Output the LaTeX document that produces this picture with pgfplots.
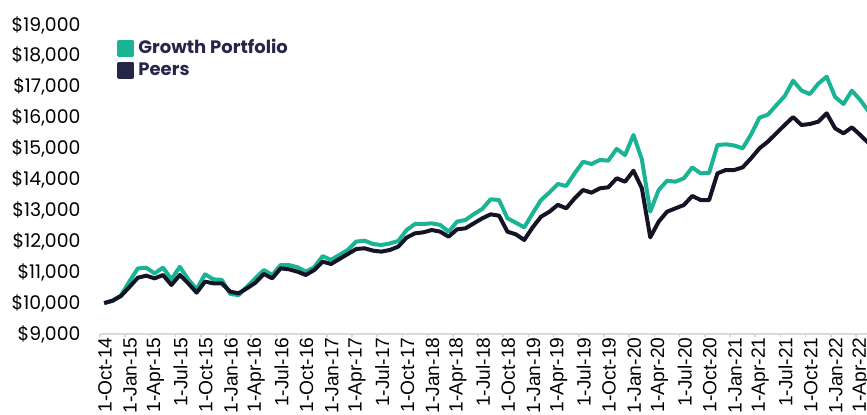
\documentclass[border=0pt]{standalone}
\usepackage{fontspec}
\setmainfont{Poppins}
\newfontfamily\arialfont{Liberation Sans}
\usepackage{pgfplots}
\usepackage{pgfplotstable}
\pgfplotsset{compat=1.18}
\definecolor{gp}{HTML}{1AB394}
\definecolor{peer}{HTML}{141426}
\definecolor{navy}{HTML}{25264A}
\pgfplotstableread{
i g p
0 10000 10000
1 10070 10080
2 10250 10230
3 10700 10520
4 11120 10820
5 11145 10888
6 10960 10800
7 11150 10909
8 10770 10586
9 11175 10909
10 10770 10640
11 10450 10338
12 10930 10694
13 10770 10640
14 10750 10640
15 10295 10370
16 10260 10317
17 10530 10480
18 10800 10660
19 11070 10942
20 10910 10802
21 11230 11125
22 11230 11093
23 11160 11017
24 11020 10909
25 11160 11071
26 11520 11341
27 11400 11265
28 11560 11427
29 11720 11589
30 11990 11751
31 12020 11773
32 11910 11697
33 11880 11665
34 11930 11719
35 12010 11827
36 12365 12120
37 12560 12258
38 12560 12290
39 12580 12365
40 12530 12311
41 12310 12150
42 12635 12387
43 12690 12420
44 12880 12581
45 13045 12743
46 13360 12872
47 13335 12829
48 12745 12311
49 12600 12225
50 12450 12042
51 12905 12452
52 13335 12797
53 13580 12958
54 13855 13180
55 13790 13067
56 14200 13390
57 14575 13660
58 14500 13573
59 14630 13714
60 14610 13747
61 14990 14038
62 14790 13929
63 15440 14285
64 14650 13714
65 12960 12129
66 13660 12635
67 13960 12958
68 13930 13067
69 14040 13174
70 14390 13466
71 14200 13336
72 14210 13330
73 15115 14199
74 15138 14307
75 15100 14307
76 15009 14393
77 15460 14685
78 16000 15009
79 16100 15224
80 16400 15494
81 16700 15763
82 17198 16020
83 16880 15763
84 16766 15796
85 17100 15871
86 17327 16141
87 16670 15656
88 16443 15494
89 16874 15688
90 16573 15440
91 16200 15170
}\datatable
\begin{document}
\begin{tikzpicture}
\begin{axis}[
  name=ax,
  scale only axis,
  width=383.5pt, height=154.5pt,
  xmin=-0.5, xmax=90.8,
  ymin=9000, ymax=19000,
  scaled y ticks=false,
  axis x line*=bottom, axis y line*=left,
  x axis line style={draw=black!15, line width=0.8pt, -},
  y axis line style={draw=none},
  tick align=outside,
  major tick length=1.6pt,
  xtick style={draw=black!15, line width=0.8pt},
  ytick style={draw=none},
  xtick={-0.5,2.5,...,89.5},
  xticklabels={1-Oct-14,1-Jan-15,1-Apr-15,1-Jul-15,1-Oct-15,1-Jan-16,1-Apr-16,1-Jul-16,1-Oct-16,1-Jan-17,1-Apr-17,1-Jul-17,1-Oct-17,1-Jan-18,1-Apr-18,1-Jul-18,1-Oct-18,1-Jan-19,1-Apr-19,1-Jul-19,1-Oct-19,1-Jan-20,1-Apr-20,1-Jul-20,1-Oct-20,1-Jan-21,1-Apr-21,1-Jul-21,1-Oct-21,1-Jan-22,1-Apr-22},
  xticklabel style={rotate=90, anchor=east, inner sep=0pt, yshift=-2.5pt,
    font=\arialfont\fontsize{9.6}{11}\selectfont, text=black},
  ytick={9000,10000,...,19000},
  yticklabels={{\$9,000},{\$10,000},{\$11,000},{\$12,000},{\$13,000},{\$14,000},{\$15,000},{\$16,000},{\$17,000},{\$18,000},{\$19,000}},
  yticklabel style={anchor=east, inner sep=0pt, xshift=-8pt,
    font=\fontsize{9.4}{11}\selectfont, text=black},
  legend style={at={(rel axis cs:0,1)}, anchor=north west, xshift=8.5pt, yshift=-5pt,
    draw=none, fill=none, inner sep=0pt, row sep=-1.2pt,
    font=\bfseries\fontsize{9}{10.8}\selectfont, text=navy},
  legend cell align=left,
]
\addplot[color=gp, line width=2pt, line join=round,
  legend image code/.code={\fill[gp] (0pt,-3.25pt) rectangle (6.5pt,3.25pt);}]
  table[x=i, y=g] {\datatable};
\addlegendentry{Growth Portfolio}
\addplot[color=peer, line width=2pt, line join=round,
  legend image code/.code={\fill[navy] (0pt,-3.25pt) rectangle (6.5pt,3.25pt);}]
  table[x=i, y=p] {\datatable};
\addlegendentry{Peers}
\end{axis}
\pgfresetboundingbox
\path[use as bounding box] (ax.south west) ++(-50pt,-40.5pt) rectangle ++(433.5pt,207.5pt);
\end{tikzpicture}
\end{document}
